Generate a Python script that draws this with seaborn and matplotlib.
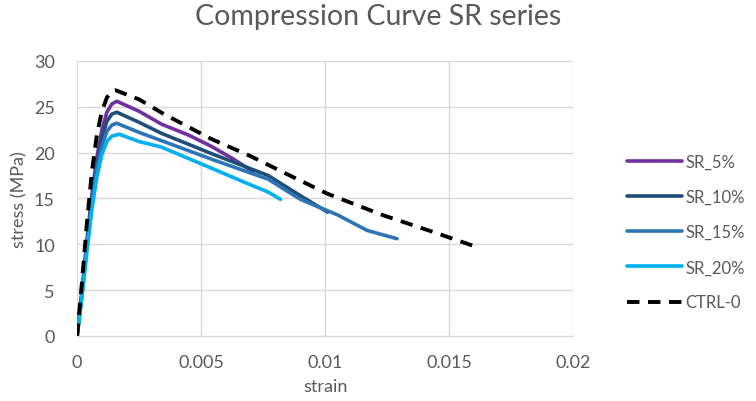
import pandas as pd
import matplotlib
matplotlib.use("Agg")
import matplotlib.pyplot as plt
import seaborn as sns

# values
sr5_strain = [0, 0.0002, 0.0004, 0.0006, 0.0008, 0.001, 0.0012, 0.0014, 0.0016, 0.0025, 0.0034, 0.0045, 0.0054, 0.0063, 0.0071]
sr5_stress = [0, 5.0, 10.5, 15.5, 19.5, 22.5, 24.4, 25.3, 25.6, 24.5, 23.1, 21.9, 20.7, 19.3, 17.9]

sr10_strain = [0, 0.0002, 0.0004, 0.0006, 0.0008, 0.001, 0.0012, 0.0014, 0.0016, 0.0025, 0.0034, 0.0055, 0.0077, 0.009, 0.0101]
sr10_stress = [0, 4.8, 10.2, 15.0, 18.8, 21.6, 23.4, 24.2, 24.4, 23.3, 22.1, 19.8, 17.5, 15.3, 13.5]

sr15_strain = [0, 0.0002, 0.0004, 0.0006, 0.0008, 0.001, 0.0012, 0.0014, 0.0016, 0.0025, 0.0034, 0.0055, 0.0077, 0.009, 0.0105, 0.0117, 0.0129]
sr15_stress = [0, 4.6, 9.8, 14.5, 18.2, 20.7, 22.3, 23.0, 23.2, 22.2, 21.3, 19.2, 17.1, 14.9, 13.2, 11.5, 10.6]

sr20_strain = [0, 0.0002, 0.0004, 0.0006, 0.0008, 0.001, 0.0012, 0.0014, 0.0017, 0.0025, 0.0034, 0.0055, 0.0068, 0.0077, 0.0082]
sr20_stress = [0, 4.3, 9.3, 13.9, 17.4, 19.8, 21.2, 21.8, 22.0, 21.2, 20.6, 18.2, 16.7, 15.7, 14.9]

ctrl_strain = [0, 0.0002, 0.0004, 0.0006, 0.0008, 0.001, 0.0012, 0.0014, 0.00155, 0.0025, 0.0035, 0.0054, 0.007, 0.0085, 0.0101, 0.0123, 0.0144, 0.016]
ctrl_stress = [0, 6.0, 12.5, 18.0, 22.0, 24.5, 26.0, 26.7, 26.8, 25.8, 24.2, 21.5, 19.6, 17.6, 15.5, 13.2, 11.3, 9.8]

series = ["SR_5%", "SR_10%", "SR_15%", "SR_20%", "CTRL-0"]
strains = [sr5_strain, sr10_strain, sr15_strain, sr20_strain, ctrl_strain]
stresses = [sr5_stress, sr10_stress, sr15_stress, sr20_stress, ctrl_stress]
colors = ["#7030A0", "#1F4E79", "#2E75B6", "#00B0F0", "#000000"]

rows = []
for name, xs, ys in zip(series, strains, stresses):
    for i, (x, y) in enumerate(zip(xs, ys)):
        rows.append({"series": name, "strain": x, "stress": y, "order": i})
df = pd.DataFrame(rows)

sns.set_style("white")
plt.rcParams["font.family"] = ["Lato", "DejaVu Sans"]
gray = "#595959"

fig = plt.figure(figsize=(7.56, 4.02), dpi=100)
ax = fig.add_axes([0.102, 0.162, 0.656, 0.684])

for name, c in zip(series, colors):
    sub = df[df["series"] == name].sort_values("order")
    sns.lineplot(data=sub, x="strain", y="stress", sort=False, ax=ax, color=c,
                 linewidth=2.6 if name != "CTRL-0" else 2.8,
                 linestyle="--" if name == "CTRL-0" else "-",
                 dashes=False, label=name)
ax.lines[-1].set_dashes([3.2, 2.2])

ax.set_xlim(0, 0.02)
ax.set_ylim(0, 30)
ax.set_xticks([0, 0.005, 0.01, 0.015, 0.02])
ax.set_xticklabels(["0", "0.005", "0.01", "0.015", "0.02"])
ax.set_yticks(range(0, 31, 5))
ax.grid(True, color="#d9d9d9", linewidth=1)
ax.set_axisbelow(True)
for s in ["top", "right", "left"]:
    ax.spines[s].set_visible(False)
ax.spines["bottom"].set_color("#d9d9d9")
ax.tick_params(axis="both", length=0, labelsize=13, colors=gray)
ax.tick_params(axis="x", pad=13)
ax.tick_params(axis="y", pad=16)
ax.set_xlabel("strain", fontsize=13, color=gray, labelpad=6)
ax.set_ylabel("stress (MPa)", fontsize=13, color=gray, labelpad=5)
fig.suptitle("Compression Curve SR series", fontsize=20.5, color=gray, y=0.99)

ax.legend_.remove()
handles, labels = ax.get_legend_handles_labels()
fig.legend(handles, labels, loc="center left", bbox_to_anchor=(0.81, 0.42),
           frameon=False, fontsize=12, labelcolor=gray, handlelength=3.3,
           handletextpad=0.2, labelspacing=1.15)

fig.savefig("out.png", dpi=100)
